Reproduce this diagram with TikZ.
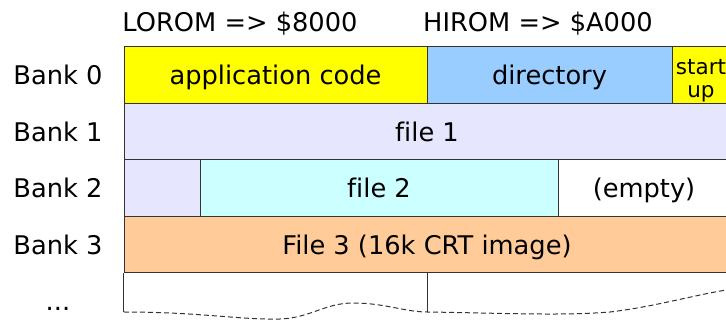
\documentclass[tikz,border=0pt]{standalone}
\usepackage{fontspec}
\setmainfont[Ligatures=NoCommon]{DejaVu Sans}
\usetikzlibrary{positioning}

\definecolor{codeyellow}{HTML}{FFFF00}
\definecolor{dirblue}{HTML}{99CCFF}
\definecolor{filelav}{HTML}{E6E6FF}
\definecolor{filecyan}{HTML}{CCFFFF}
\definecolor{fileorange}{HTML}{FFCC99}
\definecolor{edgegray}{HTML}{333333}

\tikzset{
  bankcell/.style={draw=edgegray,line width=1pt,inner sep=0pt,minimum height=56.5pt,
    text height=18.7pt,text depth=0pt},
  banklabel/.style={inner sep=0pt,text height=18.7pt,text depth=0pt},
}

\begin{document}
\begin{tikzpicture}[x=1pt,y=-1pt,every node/.style={font=\fontsize{25.7}{30}\selectfont}]
  \useasboundingbox (0,0) rectangle (726,320);
  \clip (0,0) rectangle (726,320);

  % address headers
  \node[banklabel] (lorom) at (240,22) {LOROM => \$8000};
  \node[banklabel] (hirom) at (538,22) {HIROM => \$A000};

  % bank 0
  \node[bankcell,fill=codeyellow,minimum width=303pt] (app) at (275.5,75.25) {application code};
  \node[bankcell,fill=dirblue,minimum width=245pt] (dir) at (549.5,75.25) {directory};
  \node[draw=edgegray,line width=1pt,fill=codeyellow,inner sep=0pt,minimum width=58pt,
    minimum height=56.5pt,align=center,font=\fontsize{21.5}{23.5}\selectfont]
    (startup) at (701,75.25) {\rule{0pt}{26pt}start\\up};
  % bank 1
  \node[bankcell,fill=filelav,minimum width=606pt] (file1) at (427,131.75) {file 1};
  % bank 2
  \node[bankcell,fill=filelav,minimum width=76pt] (rest1) at (162,188.25) {};
  \node[bankcell,fill=filecyan,minimum width=358pt] (file2) at (379,188.25) {file 2};
  \node[bankcell,fill=white,minimum width=172pt] (empty) at (644,188.25) {(empty)};
  % bank 3
  \node[bankcell,fill=fileorange,minimum width=606pt] (file3) at (427,244.75) {File 3 (16k CRT image)};

  % bank labels
  \node[banklabel] (bank0) at (58,75.25) {Bank 0};
  \node[banklabel] (bank1) at (58,131.75) {Bank 1};
  \node[banklabel] (bank2) at (58,188.25) {Bank 2};
  \node[banklabel] (bank3) at (58,244.75) {Bank 3};
  \node[anchor=base] (more) at (58,311) {...};

  % torn-off remainder
  \draw[draw=edgegray,line width=1pt] (file3.south west) -- ++(0,39);
  \draw[draw=edgegray,line width=1pt] (file3.south) -- ++(0,39);
  \draw[draw=edgegray,line width=1pt,dash pattern=on 5pt off 3pt]
    (124,312) .. controls (200,312) and (240,320) .. (280,319)
    .. controls (310,318) and (325,303) .. (353,303)
    .. controls (385,303) and (405,312) .. (427,312)
    .. controls (500,313) and (560,316) .. (610,312)
    .. controls (660,306) and (700,293) .. (740,288);
\end{tikzpicture}
\end{document}
